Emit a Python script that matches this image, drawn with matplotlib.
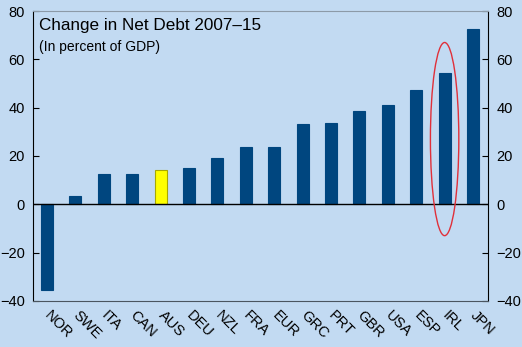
import matplotlib.pyplot as plt
from matplotlib.patches import Ellipse

plt.rcParams['font.family'] = ['Liberation Sans', 'DejaVu Sans']

countries = ["NOR", "SWE", "ITA", "CAN", "AUS", "DEU", "NZL", "FRA",
             "EUR", "GRC", "PRT", "GBR", "USA", "ESP", "IRL", "JPN"]
net_debt_change = [-35.5, 3.4, 12.4, 12.4, 14.0, 14.9, 19.0, 23.6,
                   23.6, 33.1, 33.5, 38.5, 41.3, 47.2, 54.2, 72.4]
highlight = "AUS"
circled = "IRL"

bg = "#c2daf2"
navy = "#00467f"

fig = plt.figure(figsize=(5.22, 3.47), dpi=100, facecolor=bg)
ax = fig.add_axes([0.064, 0.133, 0.871, 0.835], facecolor=bg)

x = list(range(len(countries)))
colors = ["#ffff00" if c == highlight else navy for c in countries]
edges = ["#a8a800" if c == highlight else navy for c in countries]
ax.bar(x, net_debt_change, width=0.42, color=colors, edgecolor=edges, linewidth=0.8, zorder=2)
ax.axhline(0, color="black", linewidth=1.0, zorder=3)

# red ring around Ireland
i = countries.index(circled)
ax.add_patch(Ellipse((i, 27), 1.0, 80, fill=False, edgecolor="#e0303a", linewidth=1.0, zorder=4))

ax.set_xlim(-0.48, len(countries) - 0.47)
ax.set_ylim(-40, 80)
ax.set_yticks(range(-40, 81, 20))
ax.tick_params(axis="y", direction="in", length=4, labelsize=10.5, right=True, labelright=True, pad=6)
ax.tick_params(axis="x", length=0, labelsize=10.5, pad=9)
ax.set_xticks(x)
ax.set_xticklabels(countries, rotation=-45, ha="left", va="center", rotation_mode="anchor")

ax.spines["top"].set_color("#8c9aa8")
ax.spines["bottom"].set_color("#4a5560")
ax.spines["left"].set_color("black")
ax.spines["right"].set_color("black")

ax.text(0.012, 0.975, "Change in Net Debt 2007\u201315", transform=ax.transAxes,
        fontsize=12.3, va="top", ha="left")
ax.text(0.012, 0.9, "(In percent of GDP)", transform=ax.transAxes,
        fontsize=10, va="top", ha="left")

fig.savefig("out.png", dpi=100, facecolor=bg)
